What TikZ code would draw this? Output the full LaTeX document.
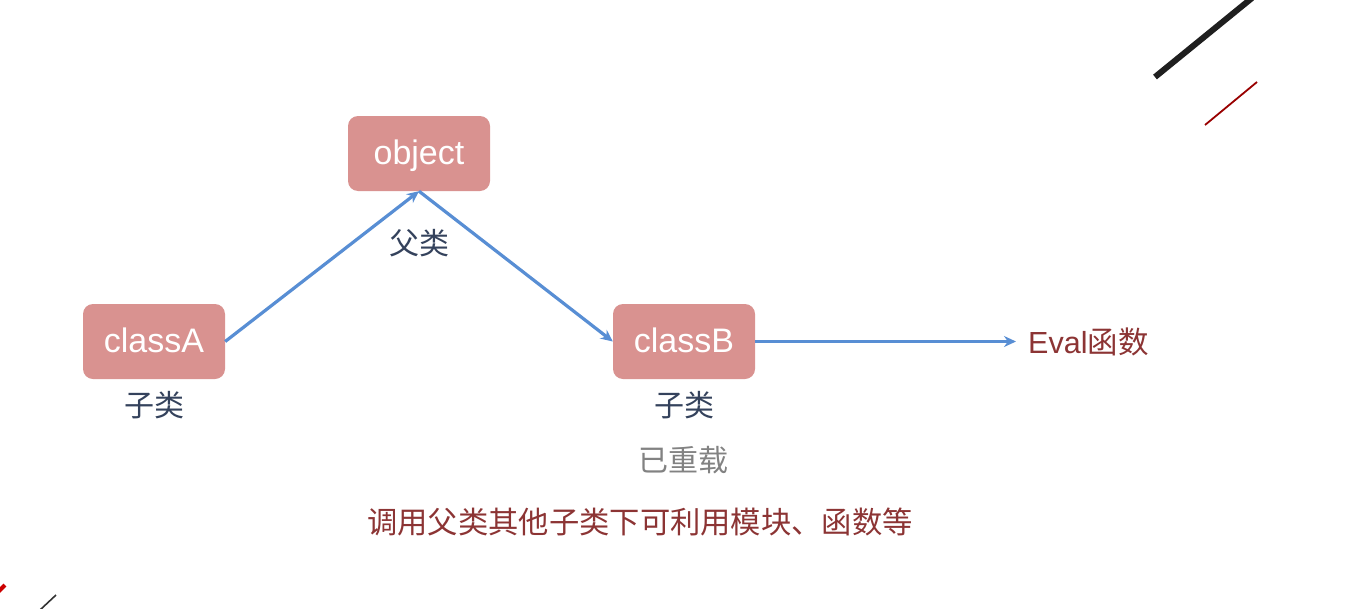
\documentclass[tikz,border=0pt]{standalone}
\usepackage{fontspec}
\usetikzlibrary{arrows.meta}
\setmainfont{Liberation Sans}
\newfontfamily\cjk{Noto Sans CJK SC}
\definecolor{boxfill}{RGB}{217,146,144}
\definecolor{arrowblue}{RGB}{88,142,212}
\definecolor{labelblue}{RGB}{52,66,92}
\definecolor{darkred}{RGB}{140,52,52}
\definecolor{overgray}{RGB}{130,130,130}
\begin{document}
\begin{tikzpicture}[x=1pt,y=-1pt,
  classbox/.style={draw=none,fill=boxfill,rounded corners=10pt,minimum width=142pt,minimum height=75pt,inner sep=0pt,text=white,font=\fontsize{34}{38}\selectfont,text height=26pt,text depth=4pt},
  sublabel/.style={text=labelblue,font=\cjk\fontsize{30}{34}\selectfont,inner sep=0pt},
  conn/.style={draw=arrowblue,line width=3.2pt,-{Stealth[length=12pt,width=11pt]}}
]
\useasboundingbox (0,0) rectangle (1347,608);
\fill[white] (0,0) rectangle (1347,608);
\node[classbox] (obj) at (419,153.5) {object};
\node[classbox] (ca) at (154,341.5) {classA};
\node[classbox] (cb) at (684,341.5) {classB};
\node[sublabel] (fl) at (419,243) {父类};
\node[sublabel] (sa) at (154,405) {子类};
\node[sublabel] (sb) at (684,405) {子类};
\node[sublabel,text=overgray] (ov) at (683,460) {已重载};
\node[text=darkred,font=\fontsize{30.5}{34}\selectfont,inner sep=0pt,anchor=west] (ev) at (1028,342) {Eval{\cjk 函数}};
\node[text=darkred,font=\cjk\fontsize{30.3}{34}\selectfont,inner sep=0pt] (note) at (640,522) {调用父类其他子类下可利用模块、函数等};
\coordinate (evend) at (1016,341.5);
\draw[conn] (ca.east) -- (obj.south);
\draw[conn] (obj.south) -- (cb.west);
\draw[conn] (cb.east) -- (evend);
% decorative strokes
\draw[black!88,line width=6pt] (1155,77) -- (1252,-2);
\draw[red!60!black,line width=1.8pt] (1205,125) -- (1257,82);
\draw[red!80!black,line width=4pt] (-2,592) -- (5,585);
\draw[black!80,line width=1.6pt] (40,610) -- (56,595);
\end{tikzpicture}
\end{document}
